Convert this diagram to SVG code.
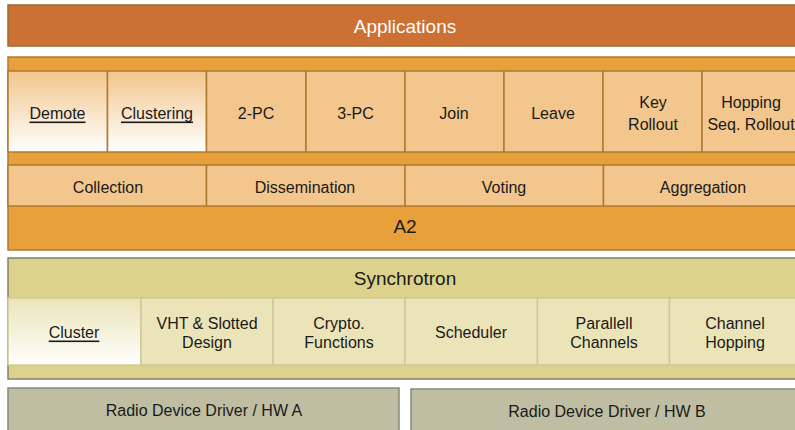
<svg xmlns="http://www.w3.org/2000/svg" width="795" height="430" viewBox="0 0 795 430">
<defs>
<linearGradient id="gO" x1="0" y1="0" x2="0" y2="1"><stop offset="0" stop-color="#f2c68c"/><stop offset="1" stop-color="#ffffff"/></linearGradient>
<linearGradient id="gS" x1="0" y1="0" x2="0" y2="1"><stop offset="0" stop-color="#ebe4b8"/><stop offset="1" stop-color="#ffffff"/></linearGradient>
<style>
text{font-family:"Liberation Sans",Arial,sans-serif;font-size:16px;fill:#1a1a1a;text-anchor:middle;dominant-baseline:central}
.app{fill:#cd7034;stroke:#9c6a2c;stroke-width:1.5}
.a2{fill:#e8a03a;stroke:#b07a30;stroke-width:1.5}
.oc{fill:#f2c68c;stroke:#b07a30;stroke-width:1.5}
.og{fill:url(#gO);stroke:#b07a30;stroke-width:1.5}
.sy{fill:#dcd28c;stroke:#80806f;stroke-width:1.5}
.sc{fill:#ebe4b8;stroke:#cfc79a;stroke-width:1.5}
.sg{fill:url(#gS);stroke:#cfc79a;stroke-width:1.5}
.hw{fill:#bfbea2;stroke:#888880;stroke-width:1.5}
.big{font-size:19px}
.u{text-decoration:underline}
</style>
</defs>
<g id="applications"><rect class="app" x="8" y="5" width="800" height="41"/><text class="big" x="405" y="26" style="fill:#ffffff">Applications</text></g>
<g id="a2"><rect class="a2" x="8" y="57" width="800" height="193"/><text class="big" x="405" y="226">A2</text></g>
<g id="demote"><rect class="og" x="8" y="71" width="99.5" height="81"/><text class="u" x="57.5" y="113">Demote</text></g>
<g id="clustering"><rect class="og" x="107.5" y="71" width="99" height="81"/><text class="u" x="157" y="113">Clustering</text></g>
<g id="pc2"><rect class="oc" x="206.5" y="71" width="99.5" height="81"/><text x="256" y="113">2-PC</text></g>
<g id="pc3"><rect class="oc" x="306" y="71" width="99" height="81"/><text x="355.5" y="113">3-PC</text></g>
<g id="join"><rect class="oc" x="405" y="71" width="99" height="81"/><text x="454" y="113">Join</text></g>
<g id="leave"><rect class="oc" x="504" y="71" width="99" height="81"/><text x="553" y="113">Leave</text></g>
<g id="keyrollout"><rect class="oc" x="603" y="71" width="99" height="81"/><text x="653" y="102">Key</text><text x="653" y="124">Rollout</text></g>
<g id="hopping"><rect class="oc" x="702" y="71" width="99" height="81"/><text x="751" y="102">Hopping</text><text x="751" y="124">Seq. Rollout</text></g>
<g id="collection"><rect class="oc" x="8" y="165" width="198.5" height="41"/><text x="108" y="187">Collection</text></g>
<g id="dissemination"><rect class="oc" x="206.5" y="165" width="198.5" height="41"/><text x="305" y="187">Dissemination</text></g>
<g id="voting"><rect class="oc" x="405" y="165" width="198.5" height="41"/><text x="504" y="187">Voting</text></g>
<g id="aggregation"><rect class="oc" x="603.5" y="165" width="198.5" height="41"/><text x="703" y="187">Aggregation</text></g>
<g id="synchrotron"><rect class="sy" x="8" y="258" width="800" height="121"/><text class="big" x="405" y="278">Synchrotron</text></g>
<g id="cluster"><rect class="sg" x="8" y="298" width="133" height="67"/><text class="u" x="74" y="332">Cluster</text></g>
<g id="vht"><rect class="sc" x="141" y="298" width="132" height="67"/><text x="207" y="323">VHT &amp; Slotted</text><text x="207" y="342">Design</text></g>
<g id="crypto"><rect class="sc" x="273" y="298" width="132" height="67"/><text x="339" y="323">Crypto.</text><text x="339" y="342">Functions</text></g>
<g id="scheduler"><rect class="sc" x="405" y="298" width="132.5" height="67"/><text x="471" y="332">Scheduler</text></g>
<g id="parallel"><rect class="sc" x="537.5" y="298" width="132" height="67"/><text x="604" y="323">Parallell</text><text x="604" y="342">Channels</text></g>
<g id="channelhopping"><rect class="sc" x="669.5" y="298" width="133" height="67"/><text x="735" y="323">Channel</text><text x="735" y="342">Hopping</text></g>
<g id="hwa"><rect class="hw" x="8" y="388" width="391" height="50"/><text x="204" y="410">Radio Device Driver / HW A</text></g>
<g id="hwb"><rect class="hw" x="411" y="389" width="400" height="50"/><text x="607" y="411">Radio Device Driver / HW B</text></g>
<g id="connectors"></g>
</svg>
